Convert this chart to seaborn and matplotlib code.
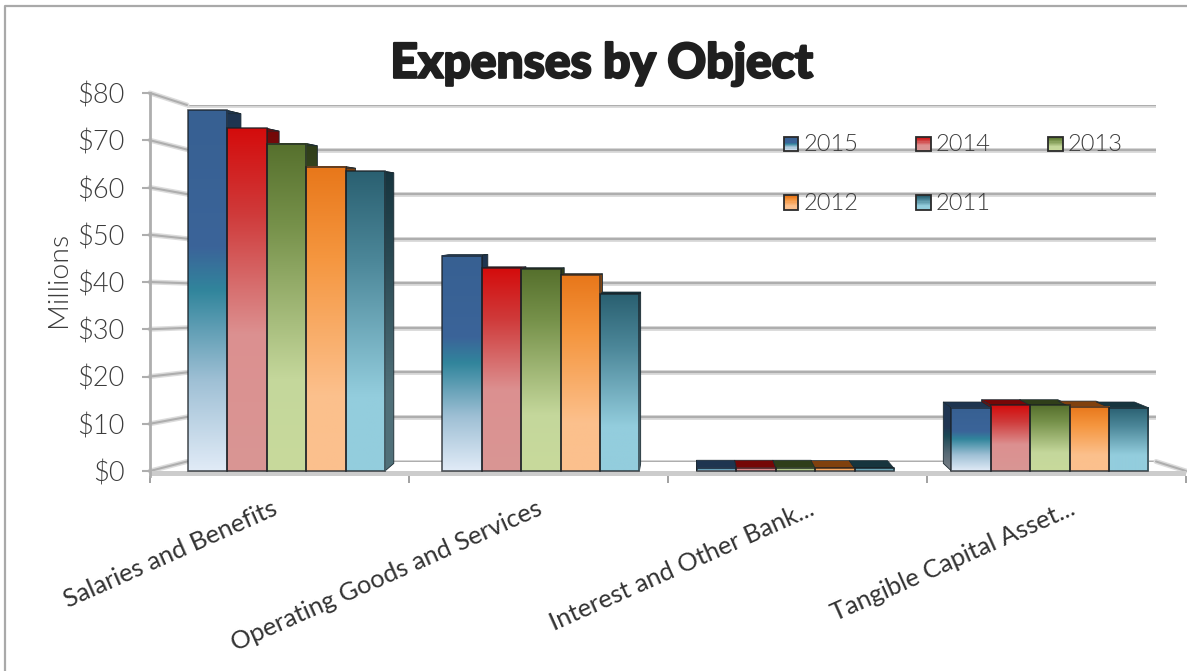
import numpy as np
import pandas as pd
import matplotlib
matplotlib.use("Agg")
import matplotlib.pyplot as plt
import matplotlib.patheffects as pe
from matplotlib.colors import LinearSegmentedColormap, to_rgb
from matplotlib.legend_handler import HandlerBase
from matplotlib.lines import Line2D
from matplotlib.patches import Patch, Polygon, Rectangle
from matplotlib.ticker import FixedLocator
from matplotlib.transforms import ScaledTranslation
import seaborn as sns

# Expenses in millions of dollars
categories = ["Salaries and Benefits", "Operating Goods and Services",
              "Interest and Other Bank...", "Tangible Capital Asset..."]
years = ["2015", "2014", "2013", "2012", "2011"]
values_2015 = [76.3, 45.6, 0.7, 13.4]
values_2014 = [72.5, 42.9, 0.7, 13.9]
values_2013 = [69.3, 42.7, 0.7, 13.9]
values_2012 = [64.4, 41.4, 0.6, 13.6]
values_2011 = [63.4, 37.4, 0.6, 13.4]
y_ticks = [0, 10, 20, 30, 40, 50, 60, 70, 80]

# Gradient stops for each series, from the top of a bar to its base
gradient_stops = {
    "2015": [(0, "#376092"), (0.38, "#3b6499"), (0.5, "#31859c"), (0.75, "#9fc0d5"), (1, "#e1ebf7")],
    "2014": [(0, "#d40c0c"), (0.25, "#cf3a3a"), (0.6, "#dc9090"), (1, "#d99694")],
    "2013": [(0, "#56702d"), (0.25, "#76914a"), (0.72, "#c4d79b"), (1, "#c8da9c")],
    "2012": [(0, "#e8771a"), (0.3, "#f5963f"), (0.75, "#fcc08c"), (1, "#fbc08e")],
    "2011": [(0, "#2a6071"), (0.3, "#4c8799"), (0.75, "#93cddd"), (1, "#93cddd")],
}
base_colors = {y: gradient_stops[y][0][1] for y in years}

W, H = 1187, 671
VANISH_X, VANISH_Y, DEPTH = 680.0, H - 218.0, 0.03

sns.set_theme(style="white")
plt.rcParams["font.family"] = ["Lato", "DejaVu Sans"]
TEXT_COLOR = "#3c3c3c"
GRID_COLOR = "#aeaeae"
LIGHT = 300


def pixel_axes(fig, left, top, right, bottom, **kw):
    """Axes placed by pixel edges, measured from the top-left corner."""
    return fig.add_axes([left / W, 1 - bottom / H, (right - left) / W, (bottom - top) / H], **kw)


frame = pd.DataFrame({
    "category": categories * len(years),
    "year": [y for y in years for _ in categories],
    "value": values_2015 + values_2014 + values_2013 + values_2012 + values_2011,
})

fig = plt.figure(figsize=(W / 100, H / 100), dpi=100, facecolor="white")

# Back wall carrying the long gridlines
wall_ax = pixel_axes(fig, 187, 105, 1156, 461.5, zorder=1)
wall_ax.set_ylim(0, 80)
wall_ax.set_xlim(0, 1)
wall_ax.patch.set_visible(False)
wall_ax.set_xticks([])
wall_ax.set_yticks(y_ticks)
wall_ax.tick_params(left=False, labelleft=False)
for s in wall_ax.spines.values():
    s.set_visible(False)
wall_ax.grid(axis="y", color=GRID_COLOR, lw=1.6)
halo = [pe.withStroke(linewidth=3.6, foreground="#dcdcdc")]
for g in wall_ax.get_ygridlines():
    g.set_path_effects(halo)

# Front axis: dollar scale on the left, floor strip and category ticks below
axis_ax = pixel_axes(fig, 150, 93, 1186, 476, zorder=2)
axis_ax.patch.set_visible(False)
axis_ax.set_xlim(-0.5, 3.5)
axis_ax.set_ylim(-5 / (378 / 80), 80)
axis_ax.axhspan(axis_ax.get_ylim()[0], 0, color="#cccccc", lw=0)
for name in ("top", "right"):
    axis_ax.spines[name].set_visible(False)
axis_ax.spines["bottom"].set_visible(False)
axis_ax.spines["left"].set_color(GRID_COLOR)
axis_ax.spines["left"].set_linewidth(2)
axis_ax.set_yticks(y_ticks)
axis_ax.set_yticklabels([f"${v}" for v in y_ticks], fontweight=LIGHT,
                        fontsize=19.5, color=TEXT_COLOR)
axis_ax.tick_params(axis="y", left=True, length=6, width=1.5, color=GRID_COLOR, pad=12.5)
axis_ax.set_ylabel("Millions", fontweight=LIGHT, fontsize=20.5, color=TEXT_COLOR)
axis_ax.yaxis.set_label_coords((71 - 150) / 1036, (476 - 279) / 383)
axis_ax.set_xticks(np.arange(-0.5, 4, 1))
axis_ax.set_xticklabels([])
axis_ax.tick_params(axis="x", bottom=True, length=5, width=1.3, color="#9a9a9a", pad=0)
axis_ax.xaxis.set_minor_locator(FixedLocator(np.arange(len(categories))))
axis_ax.set_xticks(np.arange(len(categories)), labels=categories, minor=True)
axis_ax.tick_params(axis="x", which="minor", length=0, pad=15, labelsize=18.3, labelcolor="#333333")
label_shift = [-8, -3, 11, 12]
for lab, shift in zip(axis_ax.get_xticklabels(minor=True), label_shift):
    lab.set_rotation(24)
    lab.set_ha("right")
    lab.set_va("top")
    lab.set_rotation_mode("anchor")
    lab.set_transform(lab.get_transform() + ScaledTranslation(shift / 100, 0, fig.dpi_scale_trans))

# Side-wall and floor diagonals join the front scale to the back wall
for v in y_ticks:
    x0, y0 = axis_ax.transData.transform((-0.5, v))
    x1, y1 = wall_ax.transData.transform((0, v))
    fig.add_artist(Line2D([x0, x1], [y0, y1], transform=None, color=GRID_COLOR, lw=1.5,
                          zorder=1.5, path_effects=halo))
x0, y0 = wall_ax.transData.transform((1, 0))
x1, y1 = axis_ax.transData.transform((3.5, 0))
fig.add_artist(Line2D([x0, x1], [y0, y1], transform=None, color=GRID_COLOR, lw=1.5,
                      zorder=1.5, path_effects=halo))

# Bars share the dollar scale of the front axis
bar_ax = pixel_axes(fig, 159.2, 93, 1177.2, 476, zorder=3, sharey=axis_ax)
bar_ax.patch.set_visible(False)
sns.barplot(data=frame, x="category", y="value", hue="year", hue_order=years,
            palette=base_colors, width=0.774, gap=0, saturation=1, legend=False, ax=bar_ax)
bar_ax.set_xlim(-0.5, 3.5)
bar_ax.set_ylim(axis_ax.get_ylim())
bar_ax.axis("off")

cmaps = {y: LinearSegmentedColormap.from_list(f"bar{y}", gradient_stops[y]) for y in years}
side_cmaps = {
    y: LinearSegmentedColormap.from_list(
        f"side{y}", [(p, tuple(np.array(to_rgb(c)) * 0.55)) for p, c in gradient_stops[y]])
    for y in years
}
ramp = np.linspace(0, 1, 256).reshape(-1, 1)
to_data = bar_ax.transData.inverted()


def recede(x, y):
    """Push a display point back towards the vanishing point."""
    return x + (VANISH_X - x) * DEPTH, y + (VANISH_Y - y) * DEPTH


for year, container in zip(years, bar_ax.containers):
    for bar in container:
        x0, x1 = bar.get_x(), bar.get_x() + bar.get_width()
        top = bar.get_height()
        (px0, py_top), (px1, py_base) = bar_ax.transData.transform([(x0, top), (x1, 0)])
        side_x = px1 if recede(px1, 0)[0] > px1 else px0
        sx, sy_top = recede(side_x, py_top)
        _, sy_base = recede(side_x, py_base)

        # Side face, shaded with a dark copy of the series gradient
        corners = [(side_x, py_top), (sx, sy_top), (sx, sy_base), (side_x, py_base)]
        data_pts = to_data.transform(corners)
        side_poly = Polygon(data_pts, closed=True, transform=bar_ax.transData,
                            facecolor="none", edgecolor="#1c2b33", lw=0.6, zorder=2.2)
        bar_ax.add_patch(side_poly)
        img = bar_ax.imshow(ramp, cmap=side_cmaps[year], aspect="auto", zorder=2.1,
                            extent=[data_pts[:, 0].min(), data_pts[:, 0].max(),
                                    data_pts[:, 1].min(), data_pts[:, 1].max()])
        img.set_clip_path(side_poly)

        # Top face
        bx0, by0 = recede(px0, py_top)
        bx1, by1 = recede(px1, py_top)
        top_pts = to_data.transform([(px0, py_top), (px1, py_top), (bx1, by1), (bx0, by0)])
        bar_ax.add_patch(Polygon(top_pts, closed=True, facecolor=side_cmaps[year](0.0),
                                 edgecolor="#1c2b33", lw=0.5, zorder=2.3))

        # Front face with its vertical gradient
        img = bar_ax.imshow(ramp, cmap=cmaps[year], aspect="auto", zorder=3,
                            extent=[x0, x1, 0, top])
        bar.set_facecolor("none")
        bar.set_edgecolor((0.1, 0.12, 0.14, 0.75))
        bar.set_linewidth(1.2)
        bar.set_zorder(3.1)
bar_ax.set_xlim(-0.5, 3.5)
bar_ax.set_ylim(axis_ax.get_ylim())


class GradientSwatch(HandlerBase):
    """Legend key drawn as a small outlined gradient square."""

    def create_artists(self, legend, orig, xd, yd, width, height, fontsize, trans):
        cmap = cmaps[orig.get_label()]
        side = height * 0.87
        steps = 12
        arts = []
        for i in range(steps):
            arts.append(Rectangle((-xd, -yd + side * (1 - (i + 1) / steps)), side, side / steps,
                                  facecolor=cmap(i / (steps - 1)), lw=0, transform=trans))
        arts.append(Rectangle((-xd, -yd), side, side, facecolor="none", edgecolor="#2a2a2a",
                              lw=1.3, transform=trans))
        return arts


# Handles are listed column by column so the rows read 2015, 2014, 2013 / 2012, 2011
order = ["2015", "2012", "2014", "2011", "2013"]
handles = [Patch(label=y) for y in order]
leg = fig.legend(handles=handles, labels=order, ncol=3, frameon=False,
                 handler_map={Patch: GradientSwatch()},
                 loc="upper left", bbox_to_anchor=(784 / W, 1 - 134 / H), borderpad=0, borderaxespad=0,
                 labelspacing=1.6, columnspacing=2.45, handlelength=0.82,
                 handletextpad=0.0, labelcolor=TEXT_COLOR, prop=dict(family="Lato", weight=LIGHT, size=17))
leg.set_zorder(5)

fig.text(601.5 / W, 1 - 64 / H, "Expenses by Object", ha="center", va="center",
         fontweight=900, fontsize=34.5, color="#1f1f1f",
         path_effects=[pe.withStroke(linewidth=1.6, foreground="#1f1f1f")])

# Outer chart border along the top and left edges
fig.add_artist(Line2D([5 / W, 5 / W, 1], [0, 1 - 6 / H, 1 - 6 / H], transform=fig.transFigure,
                      color="#a9a9a9", lw=1.6))

fig.savefig("out.png", dpi=100, facecolor="white")
